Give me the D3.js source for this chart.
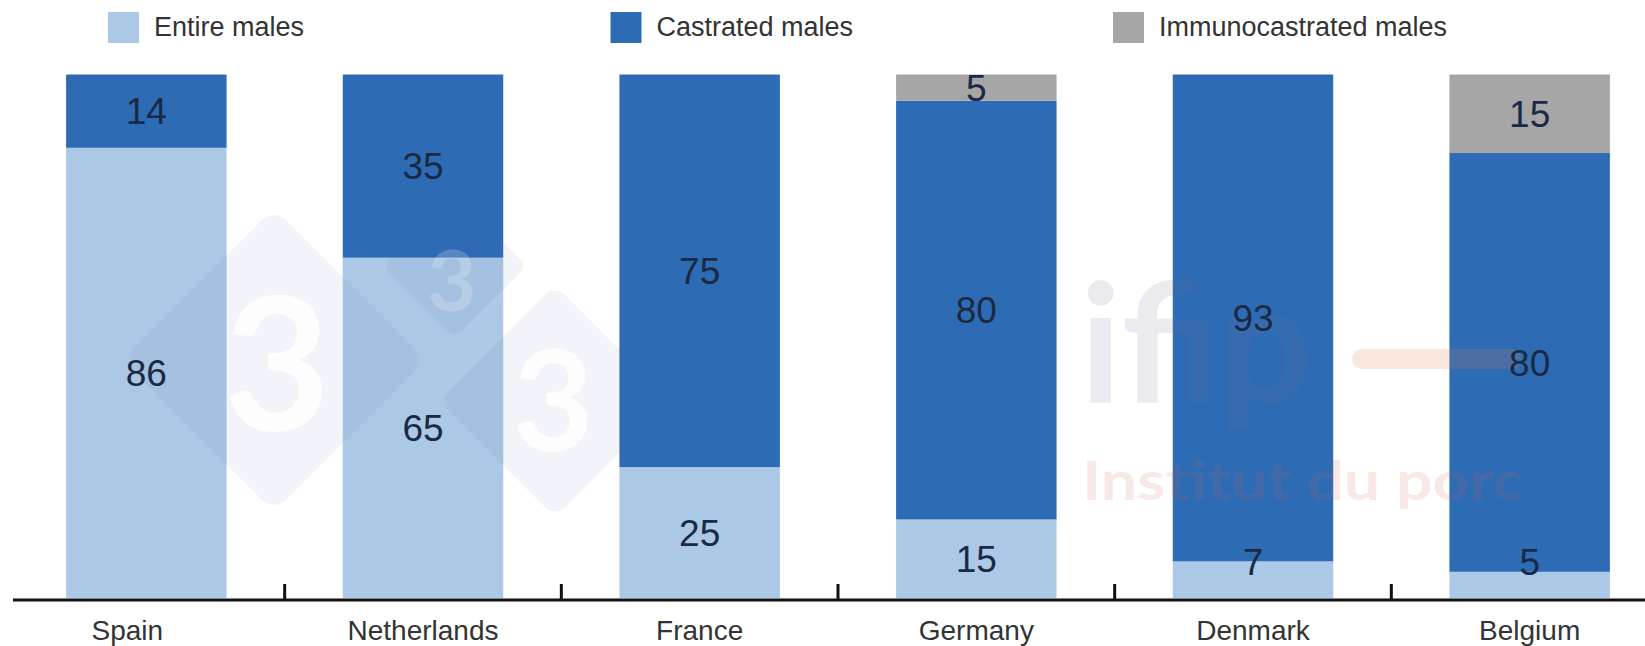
<!DOCTYPE html>
<html>
<head>
<meta charset="utf-8">
<script src="https://cdn.jsdelivr.net/npm/d3@7"></script>
<style>
  html, body { margin: 0; padding: 0; background: #ffffff; }
  svg { display: block; }
</style>
</head>
<body>
<svg id="chart" width="1645" height="646"></svg>
<script>
// ---- data ----
const categories = ["Spain", "Netherlands", "France", "Germany", "Denmark", "Belgium"];
const entireMales = [86, 65, 25, 15, 7, 5];
const castratedMales = [14, 35, 75, 80, 93, 80];
const immunocastratedMales = [0, 0, 0, 5, 0, 15];
const seriesNames = ["Entire males", "Castrated males", "Immunocastrated males"];
const seriesColors = ["#abc9e6", "#2d6cb5", "#a6a6a6"];

// ---- layout ----
const W = 1645, H = 646;
const svg = d3.select("#chart");

const x = d3.scaleBand().domain(categories).range([8, 1668]).paddingInner(0.42).paddingOuter(0.21);
const y = d3.scaleLinear().domain([0, 100]).range([598, 74.5]);
const color = d3.scaleOrdinal().domain(seriesNames).range(seriesColors);

const table = categories.map((c, i) => ({
  country: c,
  [seriesNames[0]]: entireMales[i],
  [seriesNames[1]]: castratedMales[i],
  [seriesNames[2]]: immunocastratedMales[i]
}));
const stacked = d3.stack().keys(seriesNames)(table);

// ---- bars ----
const gBars = svg.append("g");
stacked.forEach(layer => {
  gBars.selectAll(null).data(layer).join("rect")
    .attr("x", d => x(d.data.country))
    .attr("width", x.bandwidth())
    .attr("y", d => y(d[1]))
    .attr("height", d => y(d[0]) - y(d[1]))
    .attr("fill", color(layer.key));
});

// ---- watermark (faint overlay) ----
const wm = svg.append("g").attr("pointer-events", "none");
function diamond(cx, cy, r) {
  const s = r * Math.SQRT2;
  wm.append("rect")
    .attr("x", -s / 2).attr("y", -s / 2).attr("width", s).attr("height", s)
    .attr("rx", s * 0.08)
    .attr("transform", `translate(${cx},${cy}) rotate(45)`)
    .attr("fill", "#5060b0").attr("fill-opacity", 0.07);
}
diamond(274, 360, 152);
diamond(455, 266, 72);
diamond(555, 401, 116);
[[277, 364, 185, 0.8], [452, 280, 85, 0.2], [553, 401, 140, 0.8]].forEach(([cx, cy, fs, op]) => {
  wm.append("text").attr("x", cx).attr("y", cy).attr("dy", "0.36em")
    .attr("text-anchor", "middle")
    .attr("font-family", "Lato, 'Open Sans', sans-serif").attr("font-weight", 700)
    .attr("font-size", fs)
    .attr("fill", "#ffffff").attr("fill-opacity", op)
    .text("3");
});
wm.append("text").attr("x", 1080).attr("y", 402)
  .attr("font-family", "Lato, 'Open Sans', sans-serif").attr("font-weight", 700)
  .attr("font-size", 165).attr("textLength", 232).attr("lengthAdjust", "spacingAndGlyphs")
  .attr("fill", "#707090").attr("fill-opacity", 0.14)
  .text("ifip");
wm.append("line").attr("x1", 1362).attr("x2", 1512).attr("y1", 359).attr("y2", 359)
  .attr("stroke", "#e07848").attr("stroke-opacity", 0.18)
  .attr("stroke-width", 20).attr("stroke-linecap", "round");
wm.append("text").attr("x", 1082).attr("y", 500)
  .attr("font-family", "Lato, 'Open Sans', sans-serif").attr("font-weight", 700)
  .attr("font-size", 54).attr("textLength", 442).attr("lengthAdjust", "spacingAndGlyphs")
  .attr("fill", "#d06050").attr("fill-opacity", 0.14)
  .text("Institut du porc");

// ---- value labels ----
const gLabels = svg.append("g");
stacked.forEach(layer => {
  gLabels.selectAll(null).data(layer.filter(d => d[1] - d[0] > 0)).join("text")
    .attr("x", d => x(d.data.country) + x.bandwidth() / 2)
    .attr("y", d => Math.min((y(d[0]) + y(d[1])) / 2, y(0) - 36))
    .attr("dy", "0.36em")
    .attr("text-anchor", "middle")
    .attr("font-family", "'Liberation Sans', Arial, sans-serif")
    .attr("font-size", 37)
    .attr("fill", "#1b2a44")
    .text(d => d[1] - d[0]);
});

// ---- axis ----
const gAxis = svg.append("g");
gAxis.append("line")
  .attr("x1", 13).attr("x2", W).attr("y1", 600).attr("y2", 600)
  .attr("stroke", "#111").attr("stroke-width", 3);
const step = x.step();
gAxis.selectAll(null).data(categories.slice(1)).join("line")
  .attr("x1", d => x(d) - step * x.paddingInner() / 2)
  .attr("x2", d => x(d) - step * x.paddingInner() / 2)
  .attr("y1", 584).attr("y2", 600)
  .attr("stroke", "#111").attr("stroke-width", 3);
gAxis.selectAll(null).data(categories).join("text")
  .attr("x", d => x(d) + x.bandwidth() / 2)
  .attr("dx", (d, i) => i === 0 ? -19 : 0)
  .attr("y", 640)
  .attr("text-anchor", "middle")
  .attr("font-family", "'Liberation Sans', Arial, sans-serif")
  .attr("font-size", 28)
  .attr("fill", "#333")
  .text(d => d);

// ---- legend ----
const legend = svg.append("g");
const lg = legend.selectAll(null).data(seriesNames).join("g")
  .attr("transform", (d, i) => `translate(${108 + i * 502.5},0)`);
lg.append("rect").attr("x", 0).attr("y", 12).attr("width", 31).attr("height", 31)
  .attr("fill", d => color(d));
lg.append("text").attr("x", 46).attr("y", 36)
  .attr("font-family", "'Liberation Sans', Arial, sans-serif")
  .attr("font-size", 27)
  .attr("fill", "#333")
  .text(d => d);
</script>
</body>
</html>
